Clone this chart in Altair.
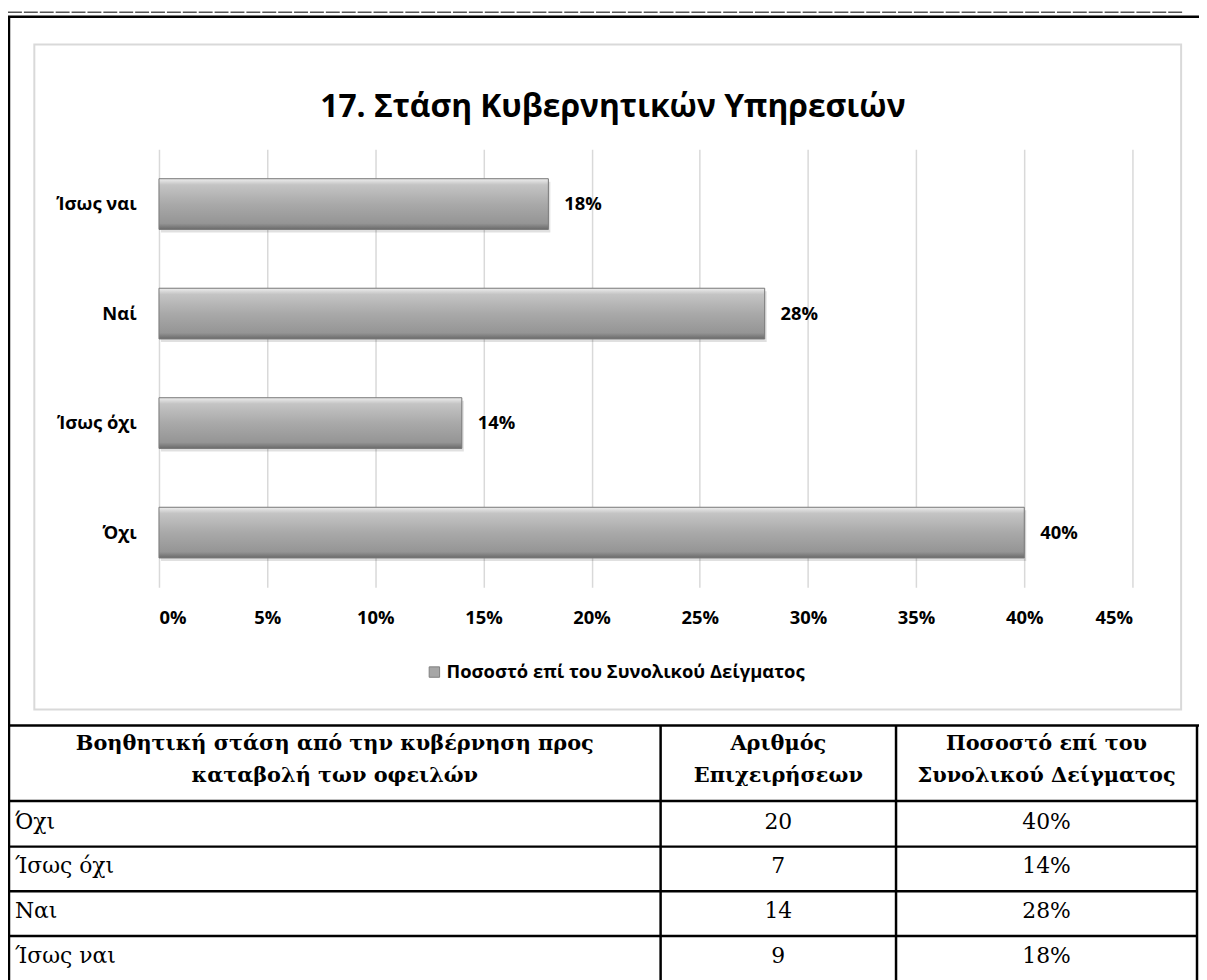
import altair as alt
import pandas as pd

# ---------------- data ----------------
chart_title = "17. Στάση Κυβερνητικών Υπηρεσιών"
chart_cats = ["Όχι", "Ίσως όχι", "Ναί", "Ίσως ναι"]
table_cats = ["Όχι", "Ίσως όχι", "Ναι", "Ίσως ναι"]
counts = [20, 7, 14, 9]
percents = [40, 14, 28, 18]
series_name = "Ποσοστό επί του Συνολικού Δείγματος"
x_ticks = [0, 5, 10, 15, 20, 25, 30, 35, 40, 45]
headers = [
    "Βοηθητική στάση από την κυβέρνηση προς\nκαταβολή των οφειλών",
    "Αριθμός\nΕπιχειρήσεων",
    "Ποσοστό επί του\nΣυνολικού Δείγματος",
]

# ---------------- layout ----------------
W, H = 980, 441
OX, OY = 160, 147  # page position of plot origin


def px(v):
    return v - OX


def py(v):
    return v - OY


SANS = "Open Sans"
SERIF = "DejaVu Serif"
LBL = 18.5

dummy = pd.DataFrame({"a": [0]})


def hline(y, x1, x2, color="black", w=2.5, dash=None):
    kw = dict(color=color, strokeWidth=w)
    if dash:
        kw["strokeDash"] = dash
    return alt.Chart(dummy).mark_rule(**kw).encode(
        x=alt.value(px(x1)), x2=alt.value(px(x2)), y=alt.value(py(y))
    )


def vline(x, y1, y2, color="black", w=2.5):
    return alt.Chart(dummy).mark_rule(color=color, strokeWidth=w).encode(
        y=alt.value(py(y1)), y2=alt.value(py(y2)), x=alt.value(px(x))
    )


deco = [
    hline(9, 8, 1190, color="#555555", w=1.5, dash=[14, 2]),
    hline(13.5, 8, 1207, w=2.5),
    vline(9, 13, 990),
    alt.Chart(dummy).mark_rect(fillOpacity=0, stroke="#d9d9d9", strokeWidth=2).encode(
        x=alt.value(px(34.5)), x2=alt.value(px(1189)),
        y=alt.value(py(41.5)), y2=alt.value(py(711)),
    ),
]

# table grid
deco.append(hline(727, 8, 1207))
for yy in [803, 849, 894, 939]:
    deco.append(hline(yy, 8, 1205))
for xx in [665, 902, 1205]:
    deco.append(vline(xx, 727, 990))

# chart title
title_layer = alt.Chart(dummy).mark_text(
    text=chart_title, align="center", baseline="alphabetic", font=SANS,
    fontSize=32, fontWeight="bold", color="black",
).encode(x=alt.value(px(617)), y=alt.value(py(114)))

# ---------------- bar chart ----------------
bars_df = pd.DataFrame({"cat": chart_cats, "pct": percents, "series": series_name})
bars_df["lab"] = bars_df["pct"].astype(str) + "%"

y_enc = alt.Y(
    "cat:N",
    sort=list(reversed(chart_cats)),
    scale=alt.Scale(paddingInner=0.537, paddingOuter=0.2685),
    axis=alt.Axis(
        title=None, labelFont=SANS, labelFontWeight="bold", labelFontSize=LBL,
        labelColor="black", labelPadding=23, ticks=False, domain=False, labelLimit=300,
    ),
)
x_enc = alt.X(
    "pct:Q",
    scale=alt.Scale(domain=[0, 45], nice=False),
    axis=alt.Axis(
        values=x_ticks, labelExpr="datum.value + '%'", title=None, grid=True,
        gridColor="#d9d9d9", gridWidth=1.5, domain=False, ticks=False,
        labelFont=SANS, labelFontWeight="bold", labelFontSize=LBL, labelColor="black",
        labelPadding=21,
    ),
)

gradient = {
    "gradient": "linear", "x1": 0, "x2": 0, "y1": 0, "y2": 1,
    "stops": [
        {"offset": 0, "color": "#eeeeee"},
        {"offset": 0.12, "color": "#c4c4c4"},
        {"offset": 0.5, "color": "#a9a9a9"},
        {"offset": 0.88, "color": "#959595"},
        {"offset": 1, "color": "#6a6a6a"},
    ],
}

base = alt.Chart(bars_df)
shadow = base.mark_bar(color="black", opacity=0.12, yOffset=3, xOffset=2).encode(x=x_enc, y=y_enc)
flat = base.mark_bar().encode(
    x=x_enc, y=y_enc,
    color=alt.Color(
        "series:N",
        scale=alt.Scale(range=["#a6a6a6"]),
        legend=alt.Legend(
            title=None, orient="none", legendX=px(428), legendY=py(664),
            symbolType="square", symbolSize=110, symbolStrokeColor="#7f7f7f",
            symbolStrokeWidth=1, labelFont=SANS, labelFontWeight="bold",
            labelFontSize=LBL, labelColor="black", labelOffset=3, labelLimit=700,
        ),
    ),
)
grad = base.mark_bar(color=gradient, stroke="#7a7a7a", strokeWidth=1).encode(x=x_enc, y=y_enc)
vlabels = base.mark_text(
    align="left", baseline="middle", dx=16, font=SANS, fontWeight="bold",
    fontSize=LBL, color="black",
).encode(x=x_enc, y=y_enc, text="lab:N")

bar_layer = alt.layer(shadow, flat, grad, vlabels)

# ---------------- table ----------------
tdf = pd.DataFrame({"label": table_cats, "count": counts, "pct": percents, "idx": list(range(len(table_cats)))})
tdf["pct_lab"] = tdf["pct"].astype(str) + "%"
tdf["count_lab"] = tdf["count"].astype(str)

BODY = 22
HEAD = 21
row_y = alt.Y("idx:Q", scale=alt.Scale(domain=[0, 3], range=[py(824), py(959)], nice=False, zero=False), axis=None)
tbase = alt.Chart(tdf)
col1 = tbase.mark_text(align="left", baseline="middle", font=SERIF, fontSize=BODY, color="black").encode(
    x=alt.value(px(15)), y=row_y, text="label:N")
col2 = tbase.mark_text(align="center", baseline="middle", font=SERIF, fontSize=BODY, color="black").encode(
    x=alt.value(px(783.5)), y=row_y, text="count_lab:N")
col3 = tbase.mark_text(align="center", baseline="middle", font=SERIF, fontSize=BODY, color="black").encode(
    x=alt.value(px(1053.5)), y=row_y, text="pct_lab:N")

hdr_x = [337, 783.5, 1053.5]
hdr_layers = []
for txt, hx in zip(headers, hdr_x):
    hdr_layers.append(
        alt.Chart(dummy).mark_text(
            text=txt, align="center", baseline="alphabetic", lineBreak="\n", lineHeight=32,
            font=SERIF, fontWeight="bold", fontSize=HEAD, color="black",
        ).encode(x=alt.value(px(hx)), y=alt.value(py(752)))
    )

chart = alt.layer(*deco, title_layer, bar_layer, col1, col2, col3, *hdr_layers).resolve_scale(
    y="independent"
).properties(
    width=W,
    height=H,
    autosize=alt.AutoSizeParams(type="none"),
    padding={"left": 152, "top": 139, "right": 67, "bottom": 392},
    background="white",
).configure_view(strokeWidth=0)

chart.save("out.html", embed_options={"renderer": "svg", "actions": False})
